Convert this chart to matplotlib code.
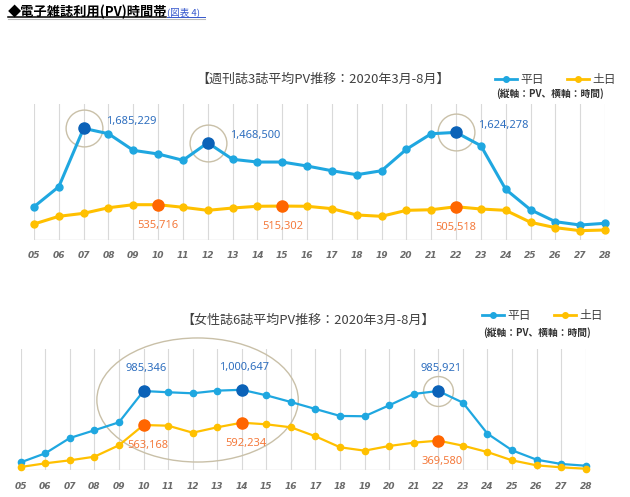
import matplotlib
matplotlib.use("Agg")
import matplotlib.pyplot as plt
from matplotlib.lines import Line2D
from matplotlib.patches import Ellipse

plt.rcParams['font.family'] = ['Noto Sans CJK JP', 'DejaVu Sans']

# hours (x axis labels)
hours = ['05', '06', '07', '08', '09', '10', '11', '12', '13', '14', '15', '16',
         '17', '18', '19', '20', '21', '22', '23', '24', '25', '26', '27', '28']

# weekly magazines (3 titles), average PV
weekly_weekday = [505000, 807000, 1685229, 1604000, 1354000, 1299000, 1204000, 1468500,
                  1219000, 1178000, 1178000, 1118000, 1047000, 987000, 1047000, 1370000,
                  1604000, 1624278, 1424000, 767000, 460000, 280000, 230000, 256000]
weekly_weekend = [245000, 361000, 406000, 490000, 536000, 535716, 497000, 451000,
                  486000, 512000, 515302, 512000, 476000, 381000, 361000, 451000,
                  460000, 505518, 471000, 451000, 271000, 190000, 145000, 155000]
weekly_hl_weekday = [2, 7, 17]
weekly_hl_weekend = [5, 10, 17]

# women's magazines (6 titles), average PV
women_weekday = [100000, 212000, 402000, 498000, 597000, 985346, 970000, 957000,
                 990000, 1000647, 932000, 849000, 762000, 676000, 672000, 808000,
                 949000, 985921, 841000, 456000, 250000, 133000, 80000, 58000]
women_weekend = [42000, 88000, 125000, 170000, 312000, 563168, 555000, 468000,
                 535000, 592234, 572000, 535000, 423000, 287000, 245000, 303000,
                 344000, 369580, 307000, 228000, 125000, 63000, 38000, 21000]
women_hl_weekday = [5, 9, 17]
women_hl_weekend = [5, 9, 17]

BLUE = '#1fa7e0'
BLUE_DARK = '#0b62b8'
BLUE_TXT = '#2f6fbf'
GOLD = '#ffc000'
ORANGE = '#ff6600'
ORANGE_TXT = '#f47a3c'
TAN = '#c9c0a8'
GRID = '#d9d9d9'

W, H = 630, 497


def fx(px):
    return px / W


def fy(py):
    return 1 - py / H


def fmt(v):
    return f'{v:,}'


def draw_panel(ax, wd, we, ymax, lw, ms):
    x = list(range(len(hours)))
    ax.set_xlim(0, len(hours) - 1)
    ax.set_ylim(0, ymax)
    for xi in x:
        ax.axvline(xi, color=GRID, lw=0.8, zorder=0)
    ax.axhline(0, color=GRID, lw=1.0, zorder=0)
    for s in ax.spines.values():
        s.set_visible(False)
    ax.set_yticks([])
    ax.set_xticks(x)
    ax.set_xticklabels(hours, fontfamily='DejaVu Sans', fontstyle='italic',
                       fontweight='bold', fontsize=6.5, color='#6a6a6a')
    ax.tick_params(axis='x', length=0, pad=8)
    ax.plot(x, wd, color=BLUE, lw=lw, marker='o', ms=ms, clip_on=False, zorder=3)
    ax.plot(x, we, color=GOLD, lw=lw, marker='o', ms=ms, clip_on=False, zorder=3)


fig = plt.figure(figsize=(6.3, 4.97), dpi=100)

# ---- top panel: weekly magazines
ax1 = fig.add_axes([fx(34), fy(240.3), fx(605 - 34), 136.2 / H])
draw_panel(ax1, weekly_weekday, weekly_weekend, 2050000, 2.2, 5)
for i in weekly_hl_weekday:
    ax1.plot(i, weekly_weekday[i], 'o', ms=26.5, mfc='none', mec=TAN, mew=1.0, zorder=2)
    ax1.plot(i, weekly_weekday[i], 'o', ms=8, color=BLUE_DARK, zorder=4)
    ax1.annotate(fmt(weekly_weekday[i]), (i, weekly_weekday[i]), xytext=(16, 5),
                 textcoords='offset points', ha='left', va='center',
                 fontfamily='Noto Sans', fontsize=8, color=BLUE_TXT)
for i in weekly_hl_weekend:
    ax1.plot(i, weekly_weekend[i], 'o', ms=8, color=ORANGE, zorder=4)
    ax1.annotate(fmt(weekly_weekend[i]), (i, weekly_weekend[i]), xytext=(0, -15),
                 textcoords='offset points', ha='center', va='center',
                 fontfamily='Noto Sans', fontsize=8, color=ORANGE_TXT)

# ---- bottom panel: women's magazines
ax2 = fig.add_axes([fx(20.7), fy(470.4), fx(565), 121.4 / H])
draw_panel(ax2, women_weekday, women_weekend, 1507000, 1.6, 4.5)
ax2.add_patch(Ellipse((7.2, 874000), 8.2, 1540000, fill=False, ec=TAN, lw=1.0,
                      clip_on=False, zorder=1))
ax2.plot(17, women_weekday[17], 'o', ms=21.5, mfc='none', mec=TAN, mew=1.0, zorder=2)
for i in women_hl_weekday:
    ax2.plot(i, women_weekday[i], 'o', ms=8, color=BLUE_DARK, zorder=4)
    ax2.annotate(fmt(women_weekday[i]), (i, women_weekday[i]), xytext=(2, 16),
                 textcoords='offset points', ha='center', va='center',
                 fontfamily='Noto Sans', fontsize=8, color=BLUE_TXT)
for i in women_hl_weekend:
    ax2.plot(i, women_weekend[i], 'o', ms=8, color=ORANGE, zorder=4)
    ax2.annotate(fmt(women_weekend[i]), (i, women_weekend[i]), xytext=(3, -15),
                 textcoords='offset points', ha='center', va='center',
                 fontfamily='Noto Sans', fontsize=8, color=ORANGE_TXT)

# ---- titles and legends
fig.text(fx(196), fy(79.5), '【週刊誌3誌平均PV推移：2020年3月-8月】', fontsize=9.4,
         color='#404040', ha='left', va='center')
fig.text(fx(181.7), fy(320.7), '【女性誌6誌平均PV推移：2020年3月-8月】', fontsize=9.4,
         color='#404040', ha='left', va='center')


def legend(x0, y0, y1):
    for x_start, col, lab in [(x0, BLUE, '平日'), (x0 + 72, GOLD, '土日')]:
        fig.add_artist(Line2D([fx(x_start), fx(x_start + 22)], [fy(y0), fy(y0)],
                              color=col, lw=2, transform=fig.transFigure))
        fig.add_artist(Line2D([fx(x_start + 11)], [fy(y0)], marker='o', ms=4,
                              color=col, transform=fig.transFigure))
        fig.text(fx(x_start + 25), fy(y0), lab, fontsize=8.5, color='#404040',
                 ha='left', va='center')
    fig.text(fx(x0 + 1), fy(y1), '(縦軸：PV、横軸：時間)', fontsize=7,
             fontweight='bold', color='#333333', ha='left', va='center')


legend(495, 79, 93.5)
legend(482, 315, 332.3)

# ---- header
fig.text(fx(8), fy(12), '◆電子雑誌利用(PV)時間帯', fontsize=9.5, fontweight='bold',
         color='black', ha='left', va='center')
fig.text(fx(167), fy(12.5), '(図表 4)', fontsize=6.8, color='#3355cc',
         ha='left', va='center')
fig.add_artist(Line2D([fx(8), fx(166)], [fy(17), fy(17)], color='black', lw=1.1,
                      transform=fig.transFigure))
fig.add_artist(Line2D([fx(8), fx(205)], [fy(18.5), fy(18.5)], color='#bbbbbb', lw=0.8,
                      transform=fig.transFigure))
fig.add_artist(Line2D([fx(167), fx(205)], [fy(17), fy(17)], color='#3355cc', lw=0.7,
                      transform=fig.transFigure))

fig.savefig('out.png', dpi=100)
